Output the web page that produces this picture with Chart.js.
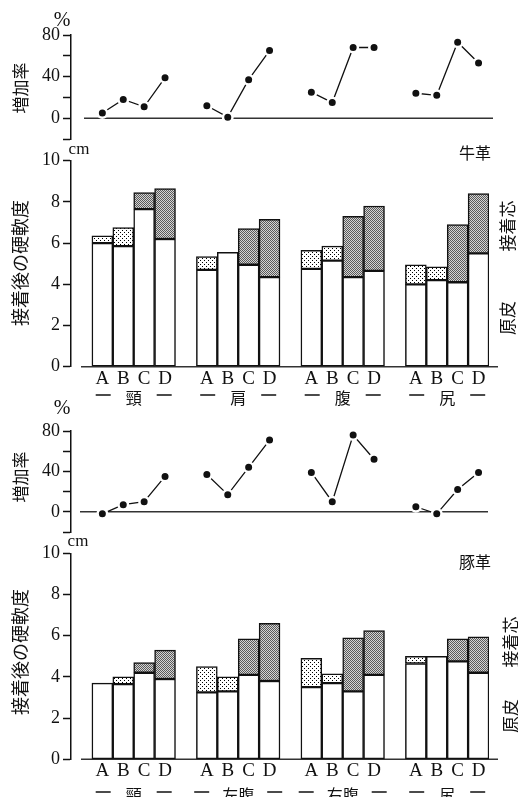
<!DOCTYPE html>
<html>
<head>
<meta charset="utf-8">
<script src="https://cdn.jsdelivr.net/npm/chart.js"></script>
<style>
    body { margin: 0; background: #fff; }
    #wrap { position: relative; width: 518px; height: 797px; overflow: hidden; }
    #wrap canvas { position: absolute; left: 0; top: 0; }
</style>
</head>
<body>
<div id="wrap">
    <canvas id="cowRateChart" width="518" height="797"></canvas>
    <canvas id="cowBarChart" width="518" height="797"></canvas>
    <canvas id="pigRateChart" width="518" height="797"></canvas>
    <canvas id="pigBarChart" width="518" height="797"></canvas>
</div>
<script>
const samples = ['A', 'B', 'C', 'D'];
const cowParts = ['頸', '肩', '腹', '尻'];
const pigParts = ['頸', '左腹', '右腹', '尻'];

// 牛革 (order: 頸 A-D, 肩 A-D, 腹 A-D, 尻 A-D)
const cowRate = [5, 18, 11, 39, 12, 1, 37, 65, 25, 15, 68, 68, 24, 22, 73, 53];
const cowLeather = [6.0, 5.85, 7.65, 6.2, 4.7, 5.55, 4.95, 4.35, 4.75, 5.15, 4.35, 4.65, 4.0, 4.2, 4.1, 5.5];
const cowBonded = [6.35, 6.75, 8.45, 8.65, 5.35, 5.55, 6.7, 7.15, 5.65, 5.85, 7.3, 7.8, 4.95, 4.85, 6.9, 8.4];

// 豚革 (order: 頸, 左腹, 右腹, 尻)
const pigRate = [-2, 7, 10, 35, 37, 17, 44, 71, 39, 10, 76, 52, 5, -2, 22, 39];
const pigLeather = [3.7, 3.65, 4.2, 3.9, 3.25, 3.3, 4.1, 3.8, 3.5, 3.7, 3.3, 4.1, 4.65, 5.0, 4.75, 4.2];
const pigBonded = [3.7, 4.0, 4.7, 5.3, 4.5, 4.0, 5.85, 6.6, 4.9, 4.15, 5.9, 6.25, 5.0, 5.0, 5.85, 5.95];

const rateTicks = [0, 40, 80];

const SERIF = '"Liberation Serif", "DejaVu Serif", serif';
const JP = '"Noto Sans CJK JP", sans-serif';
const INK = '#111';

// one empty slot before each group of four, so the groups sit apart
const toSlots = (values) => {
    let out = [];
    for (let g = 0; g < 4; g++) {
        out.push(null);
        out.push(...values.slice(g * 4, g * 4 + 4));
    }
    return out;
};
const slotLabels = toSlots(samples.concat(samples, samples, samples)).map(v => v === null ? '' : v);

// fill patterns for the interlining part
const makePattern = (size, paint) => {
    const c = document.createElement('canvas');
    c.width = size; c.height = size;
    const g = c.getContext('2d');
    paint(g);
    return g.createPattern(c, 'repeat');
};
const lightDots = makePattern(4, g => {
    g.fillStyle = '#fff'; g.fillRect(0, 0, 4, 4);
    g.fillStyle = '#000';
    g.fillRect(0, 0, 1, 1); g.fillRect(2, 2, 1, 1);
});
const darkDots = makePattern(2, g => {
    g.fillStyle = '#d4d4d4'; g.fillRect(0, 0, 2, 2);
    g.fillStyle = '#5a5a5a';
    g.fillRect(0, 0, 1, 1); g.fillRect(1, 1, 1, 1);
});
const topFill = slotLabels.map(s => (s === 'A' || s === 'B') ? lightDots : darkDots);

// zero line, drawn under the marks
const baseline = {
    id: 'baseline',
    beforeDatasetsDraw(chart, args, opts) {
        const { ctx, chartArea, scales } = chart;
        const y = scales.y.getPixelForValue(0);
        ctx.save();
        ctx.strokeStyle = '#333';
        ctx.lineWidth = 1.6;
        ctx.beginPath();
        ctx.moveTo(chartArea.left + opts.start, y);
        ctx.lineTo(chartArea.right + opts.end, y);
        ctx.stroke();
        ctx.restore();
    }
};

// "— 頸 —" under each group of bars
const groupNames = {
    id: 'groupNames',
    afterDraw(chart, args, opts) {
        if (!opts.names) return;
        const { ctx, scales } = chart;
        ctx.save();
        ctx.fillStyle = INK;
        ctx.strokeStyle = INK;
        ctx.lineWidth = 1.4;
        ctx.font = `16px ${JP}`;
        ctx.textAlign = 'center';
        ctx.textBaseline = 'middle';
        opts.names.forEach((name, g) => {
            const cx = (scales.x.getPixelForValue(g * 5 + 2) + scales.x.getPixelForValue(g * 5 + 3)) / 2;
            ctx.fillText(name, cx, opts.y);
            const half = name.length > 1 ? 44 : 38;
            ctx.beginPath();
            ctx.moveTo(cx - half, opts.y - 3); ctx.lineTo(cx - half + 15, opts.y - 3);
            ctx.moveTo(cx + half - 15, opts.y - 3); ctx.lineTo(cx + half, opts.y - 3);
            ctx.stroke();
        });
        ctx.restore();
    }
};

// units, panel titles and side labels
const notes = {
    id: 'notes',
    afterDraw(chart, args, opts) {
        const ctx = chart.ctx;
        (opts.items || []).forEach(item => {
            ctx.save();
            ctx.fillStyle = INK;
            ctx.font = item.font;
            ctx.textAlign = 'center';
            ctx.textBaseline = 'middle';
            ctx.translate(item.x, item.y);
            if (item.rotate) ctx.rotate(-Math.PI / 2);
            ctx.fillText(item.text, 0, 0);
            ctx.restore();
        });
    }
};

const yAxis = (min, max, step, labelled) => ({
    min: min,
    max: max,
    afterFit: (scale) => { scale.width = 71; },
    border: { display: true, color: INK, width: 1.5 },
    grid: { drawOnChartArea: false, drawTicks: true, tickLength: 8, tickColor: INK, tickWidth: 1.5 },
    ticks: {
        stepSize: step,
        autoSkip: false,
        padding: 3,
        color: INK,
        font: { family: SERIF, size: 18 },
        callback: (value) => labelled(value) ? value : ''
    }
});

const rateChart = (id, rates, top, bottom, baseOpts, items) => {
    new Chart(document.getElementById(id), {
        type: 'line',
        data: {
            labels: slotLabels,
            datasets: [{
                label: '増加率',
                data: toSlots(rates),
                spanGaps: false,
                borderColor: INK,
                borderWidth: 1.3,
                pointRadius: 4.75,
                pointBackgroundColor: INK,
                pointBorderColor: '#fff',
                pointBorderWidth: 2.5
            }]
        },
        options: {
            responsive: false,
            animation: false,
            layout: { padding: { left: 0, right: 29, top: top, bottom: 797 - bottom } },
            plugins: {
                legend: { display: false },
                tooltip: { enabled: false },
                baseline: baseOpts,
                notes: { items: items }
            },
            scales: {
                x: { type: 'category', offset: true, display: false },
                y: yAxis(-20, 80, 20, v => rateTicks.includes(v))
            }
        },
        plugins: [baseline, notes]
    });
};

const barChart = (id, leather, bonded, top, bottom, tickPad, names, namesY, items) => {
    const core = bonded.map((v, i) => v - leather[i] > 0.001 ? +(v - leather[i]).toFixed(2) : null);
    new Chart(document.getElementById(id), {
        type: 'bar',
        data: {
            labels: slotLabels,
            datasets: [{
                label: '原皮',
                data: toSlots(leather),
                backgroundColor: '#fff',
                borderColor: INK,
                borderWidth: 1.5,
                borderSkipped: false
            }, {
                label: '接着芯',
                data: toSlots(core),
                backgroundColor: topFill,
                borderColor: INK,
                borderWidth: 1.5,
                borderSkipped: false
            }]
        },
        options: {
            responsive: false,
            animation: false,
            categoryPercentage: 1,
            barPercentage: 1,
            layout: { padding: { left: 0, right: 29, top: top, bottom: 797 - bottom - 30 } },
            plugins: {
                legend: { display: false },
                tooltip: { enabled: false },
                baseline: { start: 10, end: 9 },
                groupNames: { names: names, y: namesY },
                notes: { items: items }
            },
            scales: {
                x: {
                    stacked: true,
                    offset: true,
                    afterFit: (scale) => { scale.height = 30; },
                    border: { display: false },
                    grid: { display: false, drawTicks: false },
                    ticks: {
                        padding: tickPad,
                        autoSkip: false,
                        maxRotation: 0,
                        color: INK,
                        font: { family: SERIF, size: 19 }
                    }
                },
                y: Object.assign(yAxis(0, 10, 2, () => true), { stacked: true })
            }
        },
        plugins: [baseline, groupNames, notes]
    });
};

const jp = (size) => `${size}px ${JP}`;
const serif = (size) => `${size}px ${SERIF}`;

rateChart('cowRateChart', cowRate, 35, 139, { start: 13, end: 4 }, [
    { text: '%', x: 62, y: 21, font: serif(20) },
    { text: '増加率', x: 21, y: 88, font: jp(17), rotate: true }
]);

barChart('cowBarChart', cowLeather, cowBonded, 160.7, 366.7, 1, cowParts, 398, [
    { text: 'cm', x: 79, y: 150, font: serif(17) },
    { text: '牛革', x: 475, y: 153, font: jp(16) },
    { text: '接着後の硬軟度', x: 20, y: 263, font: jp(18), rotate: true },
    { text: '接着芯', x: 508, y: 226, font: jp(17), rotate: true },
    { text: '原皮', x: 508, y: 318, font: jp(17), rotate: true }
]);

rateChart('pigRateChart', pigRate, 431, 532, { start: 9, end: -1 }, [
    { text: '%', x: 62, y: 409, font: serif(20) },
    { text: '増加率', x: 21, y: 477, font: jp(17), rotate: true }
]);

barChart('pigBarChart', pigLeather, pigBonded, 553.3, 759.3, 0, pigParts, 795, [
    { text: 'cm', x: 78, y: 542, font: serif(17) },
    { text: '豚革', x: 475, y: 562, font: jp(16) },
    { text: '接着後の硬軟度', x: 20, y: 652, font: jp(18), rotate: true },
    { text: '接着芯', x: 511, y: 642, font: jp(17), rotate: true },
    { text: '原皮', x: 511, y: 716, font: jp(17), rotate: true }
]);
</script>
</body>
</html>
